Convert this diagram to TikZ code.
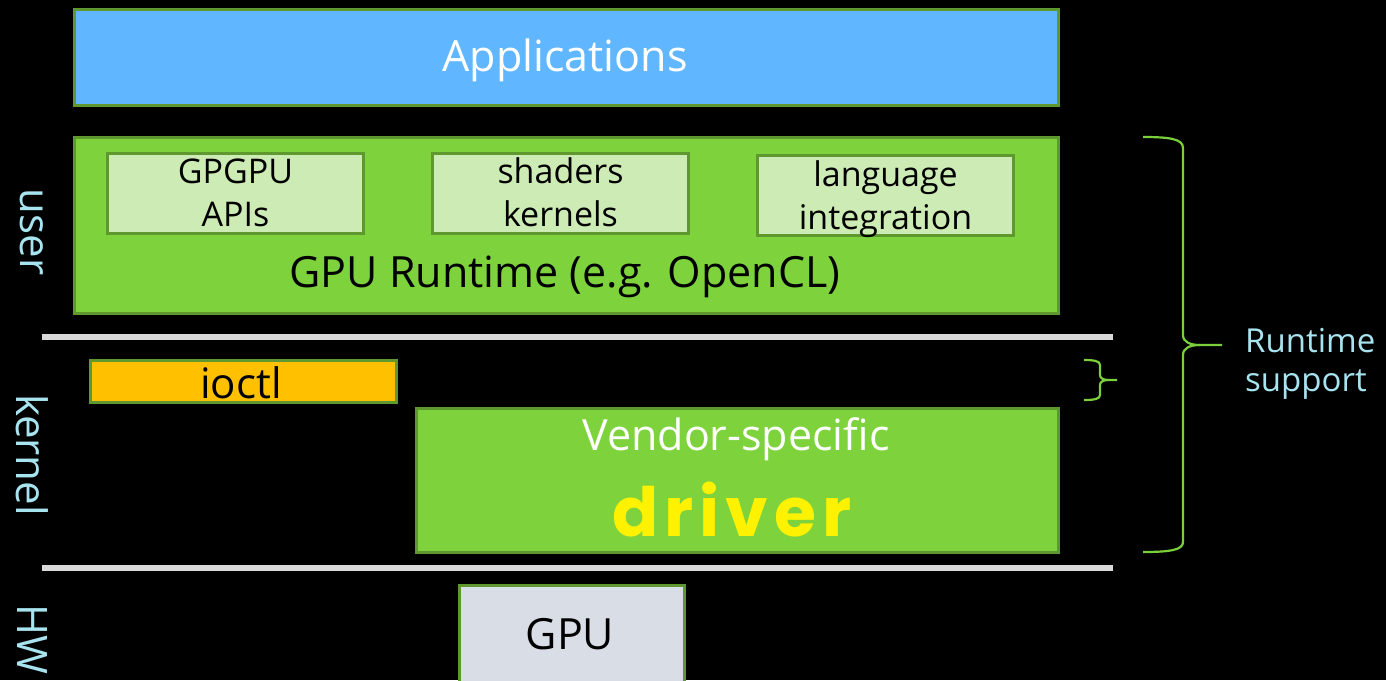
\documentclass[tikz,border=0pt]{standalone}
\usepackage{fontspec}
\setmainfont{Open Sans}
\newfontfamily\drvfont[LetterSpace=9]{Poppins}
\definecolor{appblue}{RGB}{97,183,255}
\definecolor{rtgreen}{RGB}{126,211,61}
\definecolor{bordgreen}{RGB}{94,152,46}
\definecolor{lightgreen}{RGB}{205,235,180}
\definecolor{ioctlorange}{RGB}{255,192,0}
\definecolor{gpugray}{RGB}{217,221,230}
\definecolor{labcyan}{RGB}{168,228,240}
\definecolor{bracegreen}{RGB}{122,207,58}
\definecolor{sepgray}{RGB}{217,217,217}
\tikzset{
  box/.style={draw=bordgreen, line width=3pt, anchor=north west, inner sep=0pt},
  txt/.style={inner sep=0pt, font=\fontsize{#1}{#1}\selectfont},
  side/.style={inner sep=0pt, text=labcyan, rotate=-90, font=\fontsize{42}{42}\selectfont},
  sep/.style={draw=sepgray, line width=6pt},
  brace/.style={draw=bracegreen, line width=2.2pt, line join=round}
}
\begin{document}
\begin{tikzpicture}[x=1pt,y=-1pt]
\clip (0,0) rectangle (1386,680);
\fill[black] (0,0) rectangle (1386,680);
% Applications
\node[box, fill=appblue, minimum width=984pt, minimum height=96pt] (app) at (73,8) {};
\node[txt=43, text=white] (apptxt) at (565,60) {Applications};
% Runtime
\node[box, fill=rtgreen, minimum width=984pt, minimum height=176pt] (rt) at (73,136) {};
\node[box, fill=lightgreen, minimum width=256pt, minimum height=80pt] (api) at (106,152) {};
\node[box, fill=lightgreen, minimum width=256pt, minimum height=80pt] (sh) at (431,152) {};
\node[box, fill=lightgreen, minimum width=256pt, minimum height=80pt] (lang) at (756,154) {};
\node[txt=34, align=center] (apitxt) at ([yshift=1pt]api.center) {GPGPU\\[9pt]APIs};
\node[txt=34, align=center] (shtxt) at ([yshift=1pt]sh.center) {shaders\\[9pt]kernels};
\node[txt=34, align=center] (langtxt) at ([yshift=-4pt]lang.center) {language\\[9pt]integration};
\node[txt=43] (rttxt) at (565,277) {GPU Runtime (e.g. OpenCL)};
% separators
\coordinate (s1a) at (42,337); \coordinate (s1b) at (1113,337);
\coordinate (s2a) at (42,568); \coordinate (s2b) at (1113,568);
\draw[sep] (s1a) -- (s1b);
\draw[sep] (s2a) -- (s2b);
% kernel
\node[box, fill=ioctlorange, minimum width=306pt, minimum height=42pt] (ioctl) at (89,359) {};
\node[txt=42] (ioctltxt) at (241,383) {ioctl};
\node[box, fill=rtgreen, minimum width=642pt, minimum height=144pt] (drv) at (415,407) {};
\node[txt=43, text=white] (vendtxt) at (736,439) {Vendor-specific};
\node[inner sep=0pt, text=yellow, font=\fontsize{68}{68}\selectfont\drvfont\bfseries] (drvtxt) at (732,510) {driver};
% HW
\node[box, fill=gpugray, minimum width=225pt, minimum height=130pt] (gpu) at (458,584) {};
\node[txt=43] (gputxt) at (570,634) {GPU};
% side labels
\node[side] (user) at (32,232) {user};
\node[side] (kern) at (32,455) {kernel};
\node[side, anchor=west] (hw) at (32,604) {HW};
% braces
\draw[brace] (1143,137) .. controls (1170,137) and (1183,139) .. (1183,148)
  -- (1183,335) .. controls (1183,342) and (1190,345) .. (1200,345) -- (1222,345);
\draw[brace] (1200,345) .. controls (1190,345) and (1183,348) .. (1183,355)
  -- (1183,542) .. controls (1183,550) and (1170,552) .. (1143,552);
\draw[brace] (1084,360) .. controls (1094,360) and (1100,361) .. (1100,365)
  -- (1100,375) .. controls (1100,378) and (1103,380) .. (1108,380) -- (1117,380);
\draw[brace] (1108,380) .. controls (1103,380) and (1100,382) .. (1100,385)
  -- (1100,395) .. controls (1100,399) and (1094,400) .. (1084,400);
\node[txt=33, text=labcyan, align=left, anchor=west] (rs) at (1245,364) {Runtime\\[6pt]support};
\end{tikzpicture}
\end{document}
